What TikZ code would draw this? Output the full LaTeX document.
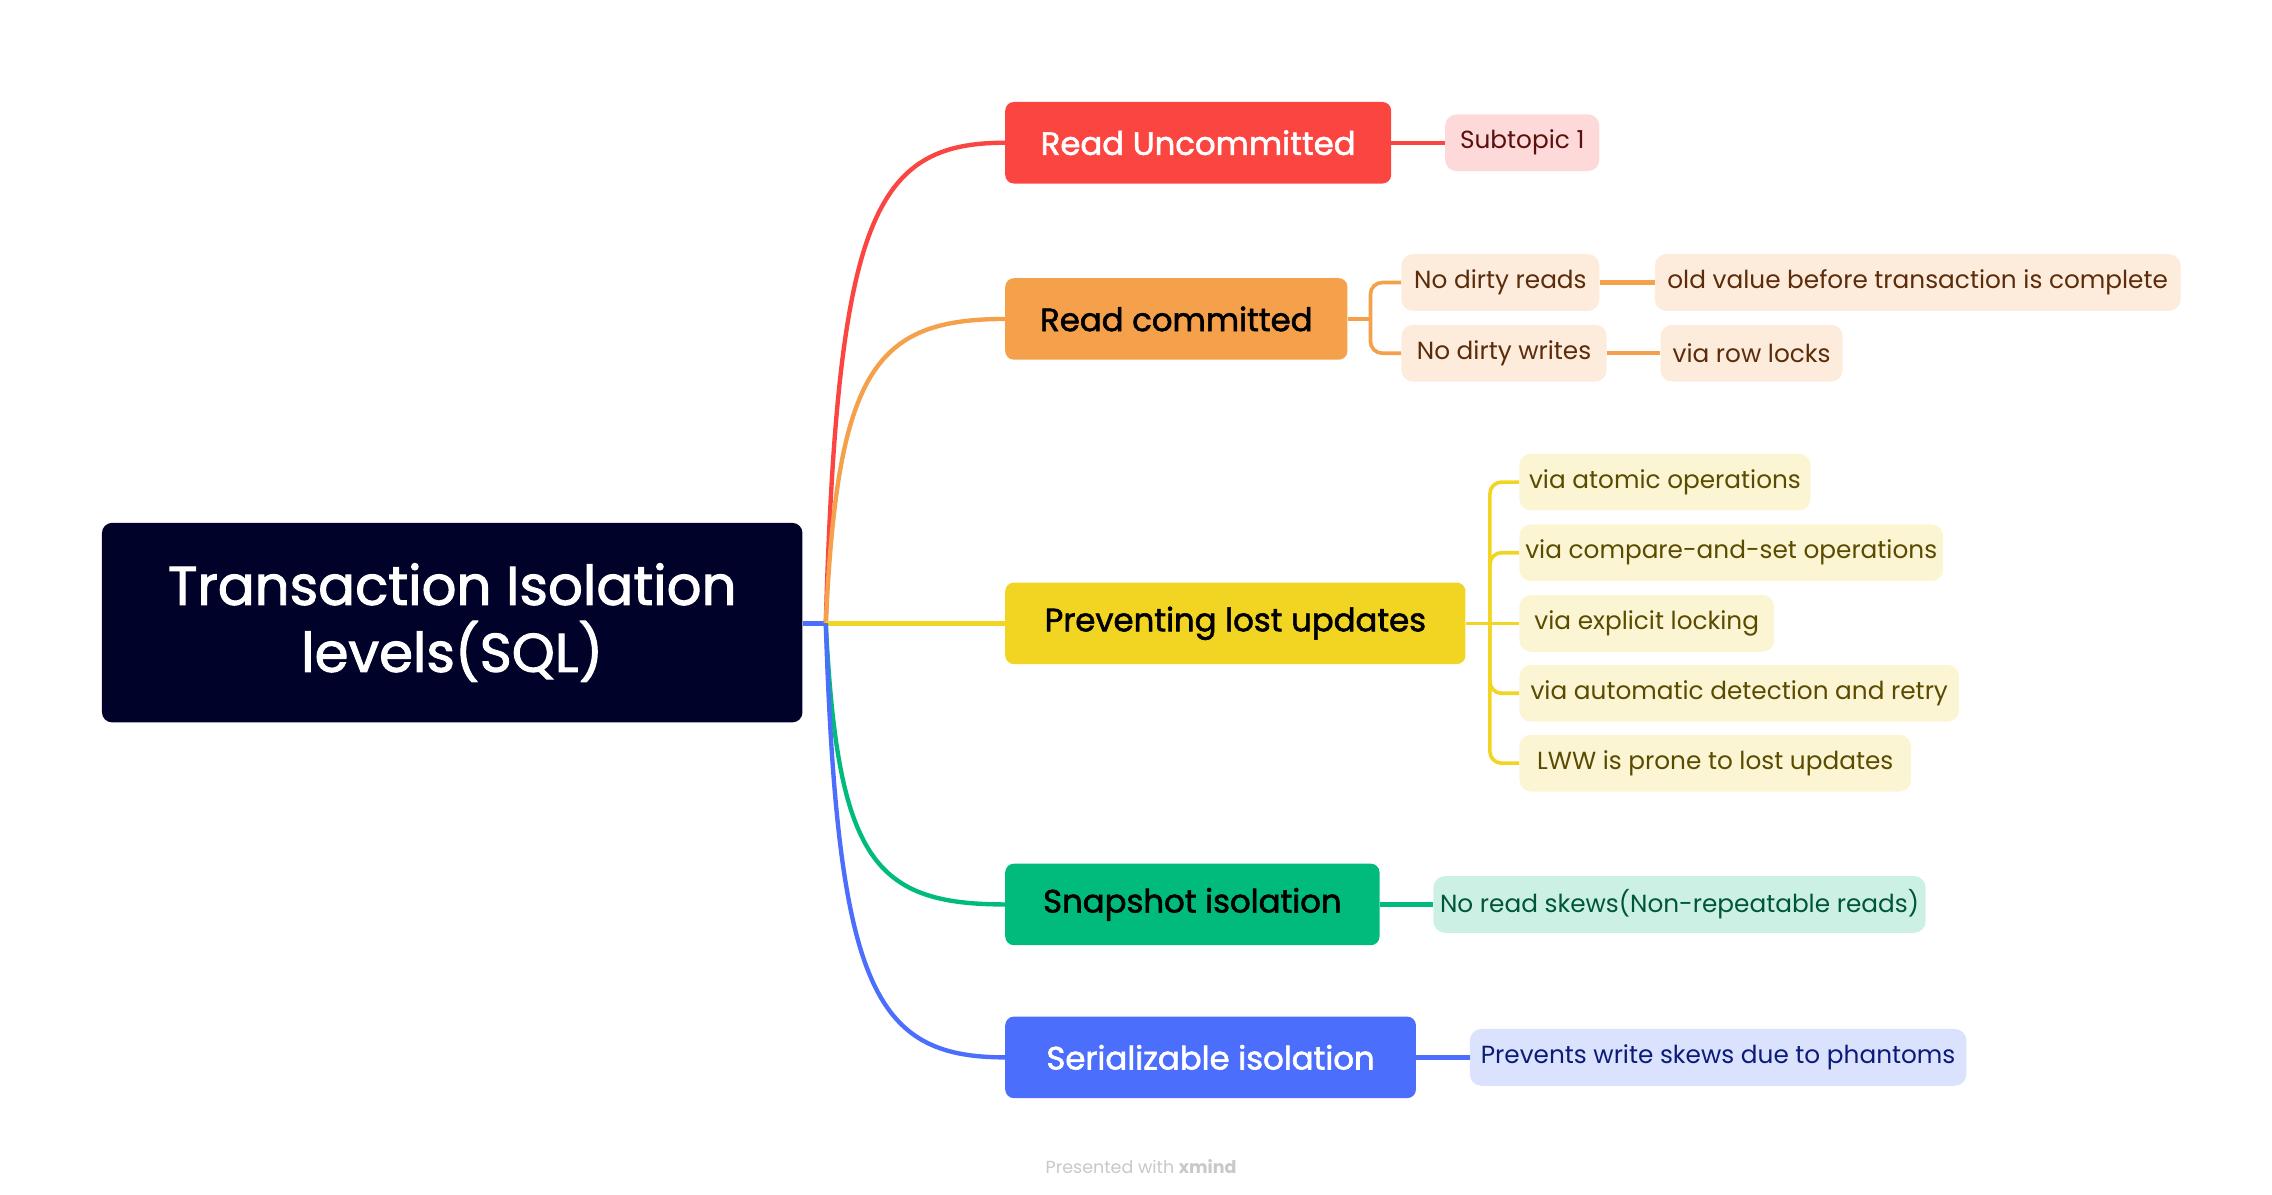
\documentclass[tikz,border=0pt]{standalone}
\usepackage{fontspec}
\setmainfont{Poppins}
\newfontfamily\medf{Poppins}[FakeBold=1.8]
\definecolor{cRoot}{HTML}{000229}
\definecolor{cRed}{HTML}{FB4540}
\definecolor{cOrange}{HTML}{F5A04B}
\definecolor{cYellow}{HTML}{F2D422}
\definecolor{cGreen}{HTML}{00BB7C}
\definecolor{cBlue}{HTML}{4C6EFC}
\definecolor{lRed}{HTML}{FDDAD9}
\definecolor{tRed}{HTML}{5C0F0C}
\definecolor{lOrange}{HTML}{FDEBDC}
\definecolor{tOrange}{HTML}{5C2C0A}
\definecolor{lYellow}{HTML}{FCF5D4}
\definecolor{tYellow}{HTML}{5A4B00}
\definecolor{lGreen}{HTML}{CCF1E4}
\definecolor{tGreen}{HTML}{00563A}
\definecolor{lBlue}{HTML}{DBE2FE}
\definecolor{tBlue}{HTML}{0A1C78}
\definecolor{cFoot}{HTML}{C8C8C8}
\begin{document}
\begin{tikzpicture}[x=1pt,y=-1pt,
  rootbox/.style={rectangle, rounded corners=7pt, fill=cRoot, text=white, inner sep=0pt,
    minimum width=481pt, minimum height=137pt, align=center,
    font=\medf\fontsize{37.5}{46}\selectfont},
  mainbox/.style={rectangle, rounded corners=6pt, minimum height=56pt, anchor=west, inner sep=0pt,
    font=\medf\fontsize{22.2}{28}\selectfont},
  subbox/.style={rectangle, rounded corners=8pt, minimum height=39pt, anchor=west, inner sep=0pt,
    font=\fontsize{17}{22}\selectfont},
  conn/.style={line width=3pt},
  br/.style={line width=2.5pt, rounded corners=8pt}
]
\useasboundingbox (0,0) rectangle (1560,820);

% root
\node[rootbox] (root) at (310.5,427.5) {Transaction Isolation\\levels(SQL)};
\coordinate (j) at (567,428);

% main topics
\node[mainbox, fill=cRed, text=white, minimum width=265pt] (ru) at (690,98) {Read Uncommitted};
\node[mainbox, fill=cOrange, text=black, minimum width=235pt] (rc) at (690,219) {Read committed};
\node[mainbox, fill=cYellow, text=black, minimum width=316pt] (plu) at (690,428) {Preventing lost updates};
\node[mainbox, fill=cGreen, text=black, minimum width=257pt] (si) at (690,621) {Snapshot isolation};
\node[mainbox, fill=cBlue, text=white, minimum width=282pt] (ser) at (690,726) {Serializable isolation};

% root connectors
\draw[conn, cBlue] (root.east |- j) -- (j);
\draw[conn, cRed] (j) .. controls (575,150) and (600,98) .. (ru.west);
\draw[conn, cOrange] (j) .. controls (575,255) and (600,219) .. (rc.west);
\draw[conn, cYellow] (j) -- (plu.west);
\draw[conn, cGreen] (j) .. controls (575,590) and (600,621) .. (si.west);
\draw[conn, cBlue] (j) .. controls (575,678) and (600,726) .. (ser.west);

% Read Uncommitted child
\node[subbox, fill=lRed, text=tRed, minimum width=106pt] (s1) at (992,98) {Subtopic 1};
\draw[conn, cRed] (ru.east) -- (s1.west);

% Read committed children
\node[subbox, fill=lOrange, text=tOrange, minimum width=136pt] (ndr) at (962,194) {No dirty reads};
\node[subbox, fill=lOrange, text=tOrange, minimum width=141pt] (ndw) at (962,242.5) {No dirty writes};
\node[subbox, fill=lOrange, text=tOrange, minimum width=361pt] (ov) at (1136,194) {old value before transaction is complete};
\node[subbox, fill=lOrange, text=tOrange, minimum width=125pt] (vrl) at (1140,242.5) {via row locks};
\coordinate (rcb) at (941,219);
\draw[br, cOrange] (rc.east) -- (rcb);
\draw[br, cOrange] (rcb) |- (ndr.west);
\draw[br, cOrange] (rcb) |- (ndw.west);
\draw[conn, cOrange] (ndr.east) -- (ov.west);
\draw[conn, cOrange] (ndw.east) -- (vrl.west);

% Preventing lost updates children
\node[subbox, fill=lYellow, text=tYellow, minimum width=200pt] (p1) at (1043,331) {via atomic operations};
\node[subbox, fill=lYellow, text=tYellow, minimum width=291pt] (p2) at (1043,379.5) {via compare-and-set operations};
\node[subbox, fill=lYellow, text=tYellow, minimum width=175pt] (p3) at (1043,428) {via explicit locking};
\node[subbox, fill=lYellow, text=tYellow, minimum width=302pt] (p4) at (1043,476) {via automatic detection and retry};
\node[subbox, fill=lYellow, text=tYellow, minimum width=269pt] (p5) at (1043,524) {LWW is prone to lost updates};
\coordinate (plb) at (1023,428);
\draw[br, cYellow] (plu.east) -- (plb);
\draw[br, cYellow] (plb) |- (p1.west);
\draw[br, cYellow] (plb) |- (p2.west);
\draw[br, cYellow] (plb) -- (p3.west);
\draw[br, cYellow] (plb) |- (p4.west);
\draw[br, cYellow] (plb) |- (p5.west);

% Snapshot child
\node[subbox, fill=lGreen, text=tGreen, minimum width=338pt] (nrs) at (984,621) {No read skews(Non-repeatable reads)};
\draw[conn, cGreen] (si.east) -- (nrs.west);

% Serializable child
\node[subbox, fill=lBlue, text=tBlue, minimum width=341pt] (pws) at (1009,726) {Prevents write skews due to phantoms};
\draw[conn, cBlue] (ser.east) -- (pws.west);

% footer
\node[text=cFoot, font=\fontsize{12}{14}\selectfont, inner sep=0pt] (foot) at (783.5,801) {Presented with \textbf{xmind}};
\end{tikzpicture}
\end{document}
